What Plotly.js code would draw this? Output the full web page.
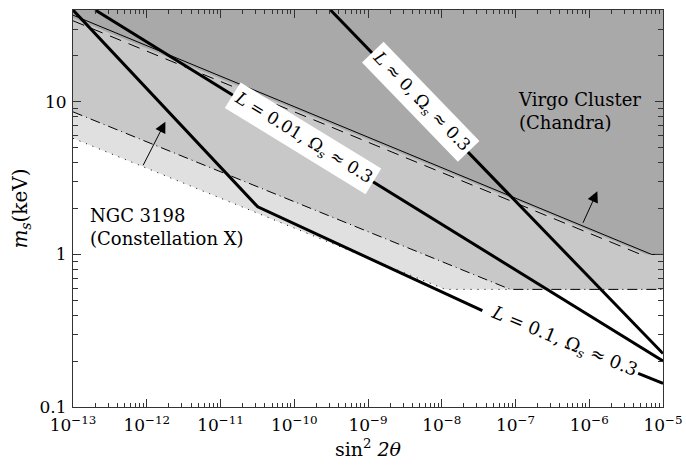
<!DOCTYPE html>
<html>
<head>
<meta charset="utf-8">
<script src="https://cdn.plot.ly/plotly-3.0.1.min.js"></script>
<style>html,body{margin:0;padding:0;background:#fff;}#chart{width:686px;height:469px;}</style>
</head>
<body>
<div id="chart"></div>
<script>
// ---------- data (sin^2 2theta , m_s in keV) ----------
const xTicks = [1e-13, 1e-12, 1e-11, 1e-10, 1e-9, 1e-8, 1e-7, 1e-6, 1e-5];
const xTickText = ['10<sup>−13</sup>','10<sup>−12</sup>','10<sup>−11</sup>','10<sup>−10</sup>','10<sup>−9</sup>','10<sup>−8</sup>','10<sup>−7</sup>','10<sup>−6</sup>','10<sup>−5</sup>'];
const yTicks = [0.1, 1, 10];
const yTickText = ['0.1', '1', '10'];

const mMin = 0.59;                       // lower mass bound (horizontal)
// NGC 3198 (Constellation X) sensitivity, dotted
const xConX = [1e-13, 1.12e-8, 8.5e-8];
const mConX = [5.77, mMin, mMin];
// second Constellation X bound, dash-dot
const xConX2 = [1e-13, 8.5e-8, 1e-5];
const mConX2 = [8.6, mMin, mMin];
// Virgo cluster (Chandra), thin solid
const xVirgo = [1e-13, 7e-6, 1e-5];
const mVirgo = [37, 1, 1];
// Virgo, dashed
const xVirgoD = [1e-13, 5e-6];
const mVirgoD = [34, 1];
// Virgo excluded region edge
const xVirgoF = [1e-13, 6e-6, 1e-5];
const mVirgoF = [35.5, 1, 1];

// production curves (thick)
const xL0 = [3.1e-10, 1e-5];
const mL0 = [40, 0.224];
const xL001 = [2.0e-13, 1e-5];
const mL001 = [40, 0.2];
const xL01 = [1e-13, 3.2e-11, 3.55e-8, null, 4.6e-6, 1e-5];
const mL01 = [40, 2.05, 0.428, null, 0.166, 0.143];

// ---------- helpers ----------
const xLo = xTicks[0], xHi = xTicks[xTicks.length - 1], mTop = 100;
function region(xs, ms) {
  return {
    x: xs.concat([xHi, xHi, xLo]),
    y: ms.concat([ms[ms.length - 1], mTop, mTop]),
  };
}
function minorVals(e0, e1) {
  const v = [];
  for (let e = e0; e < e1; e++) for (let d = 2; d <= 9; d++) v.push(d * Math.pow(10, e));
  return v;
}
const rLight = region(xConX.slice(0, 2), mConX.slice(0, 2));
const rMed = region(xConX2.slice(0, 2), mConX2.slice(0, 2));
const rDark = region(xVirgoF, mVirgoF);

const serif = 'DejaVu Serif';
const ink = '#000';

const data = [
  {x: rLight.x, y: rLight.y, mode: 'lines', fill: 'toself', fillcolor: '#e0e0e0', line: {width: 0}, hoverinfo: 'skip'},
  {x: rMed.x, y: rMed.y, mode: 'lines', fill: 'toself', fillcolor: '#c8c8c8', line: {width: 0}, hoverinfo: 'skip'},
  {x: rDark.x, y: rDark.y, mode: 'lines', fill: 'toself', fillcolor: '#a9a9a9', line: {width: 0}, hoverinfo: 'skip'},
  {x: xConX, y: mConX, mode: 'lines', line: {color: ink, width: 1, dash: '1px,6px'}},
  {x: xConX2, y: mConX2, mode: 'lines', line: {color: ink, width: 1, dash: '10px,4px,1px,4px'}},
  {x: xVirgo, y: mVirgo, mode: 'lines', line: {color: ink, width: 1}},
  {x: xVirgoD, y: mVirgoD, mode: 'lines', line: {color: ink, width: 1, dash: '12px,8px'}},
  {x: xL0, y: mL0, mode: 'lines', line: {color: ink, width: 3}},
  {x: xL001, y: mL001, mode: 'lines', line: {color: ink, width: 3}},
  {x: xL01, y: mL01, mode: 'lines', line: {color: ink, width: 3}, connectgaps: false},
];

const axisCommon = {
  type: 'log', showgrid: false, zeroline: false,
  showline: true, linecolor: '#333', linewidth: 1, mirror: 'allticks',
  ticks: 'inside', ticklen: 8, tickwidth: 1, tickcolor: '#333',
  tickmode: 'array',
  tickfont: {family: serif, size: 17, color: ink},
};

const layout = {
  width: 686, height: 469,
  margin: {l: 73, r: 23, t: 10, b: 62},
  paper_bgcolor: '#fff', plot_bgcolor: '#fff',
  showlegend: false,
  xaxis: Object.assign({}, axisCommon, {
    range: [-13, -5], tickvals: xTicks, ticktext: xTickText, ticklabelstandoff: 3,
    minor: {tickmode: 'array', tickvals: minorVals(-13, -5), ticks: 'inside', ticklen: 4, tickwidth: 1, tickcolor: '#333', showgrid: false},
    title: {text: 'sin<sup>2</sup> <i>2θ</i>', font: {family: serif, size: 19, color: ink}, standoff: 8},
  }),
  yaxis: Object.assign({}, axisCommon, {
    range: [-1, Math.log10(40)], tickvals: yTicks, ticktext: yTickText, ticklabelstandoff: 2,
    minor: {tickmode: 'array', tickvals: minorVals(-1, 2), ticks: 'inside', ticklen: 5, tickwidth: 1, tickcolor: '#333', showgrid: false},
    title: {text: '<i>m</i><sub><i>s</i></sub>(keV)', font: {family: serif, size: 20, color: ink}, standoff: 6},
  }),
  annotations: [
    {xref: 'x', yref: 'y', x: -7.0, y: 0.94, xanchor: 'left', yanchor: 'middle', align: 'left', showarrow: false,
     text: 'Virgo Cluster<br>(Chandra)', font: {family: serif, size: 18, color: ink}},
    {xref: 'x', yref: 'y', x: -12.79, y: 0.179, xanchor: 'left', yanchor: 'middle', align: 'left', showarrow: false,
     text: 'NGC 3198<br>(Constellation X)', font: {family: serif, size: 18, color: ink}},
    {xref: 'x', yref: 'y', x: -8.29, y: 1.0, showarrow: false, textangle: 46, bgcolor: '#fff', borderpad: 3,
     text: '<i>L</i> ≈ 0, Ω<sub><i>s</i></sub> ≈ 0.3', font: {family: serif, size: 17, color: ink}},
    {xref: 'x', yref: 'y', x: -9.876, y: 0.76, showarrow: false, textangle: 31.5, bgcolor: '#fff', borderpad: 3,
     text: '<i>L</i> = 0.01, Ω<sub><i>s</i></sub> ≈ 0.3', font: {family: serif, size: 17, color: ink}},
    {xref: 'x', yref: 'y', x: -6.34, y: -0.575, showarrow: false, textangle: 22.5,
     text: '<i>L</i> = 0.1, Ω<sub><i>s</i></sub> ≈ 0.3', font: {family: serif, size: 18, color: ink}},
    {xref: 'x', yref: 'y', x: -11.747, y: 0.87, text: '', showarrow: true, ax: -23, ay: 45,
     arrowhead: 2, arrowsize: 2.2, arrowwidth: 1, arrowcolor: ink},
    {xref: 'x', yref: 'y', x: -5.89, y: 0.414, text: '', showarrow: true, ax: -15, ay: 33,
     arrowhead: 2, arrowsize: 2.2, arrowwidth: 1, arrowcolor: ink},
  ],
};

Plotly.newPlot('chart', data, layout, {staticPlot: true, displayModeBar: false});
</script>
</body>
</html>
